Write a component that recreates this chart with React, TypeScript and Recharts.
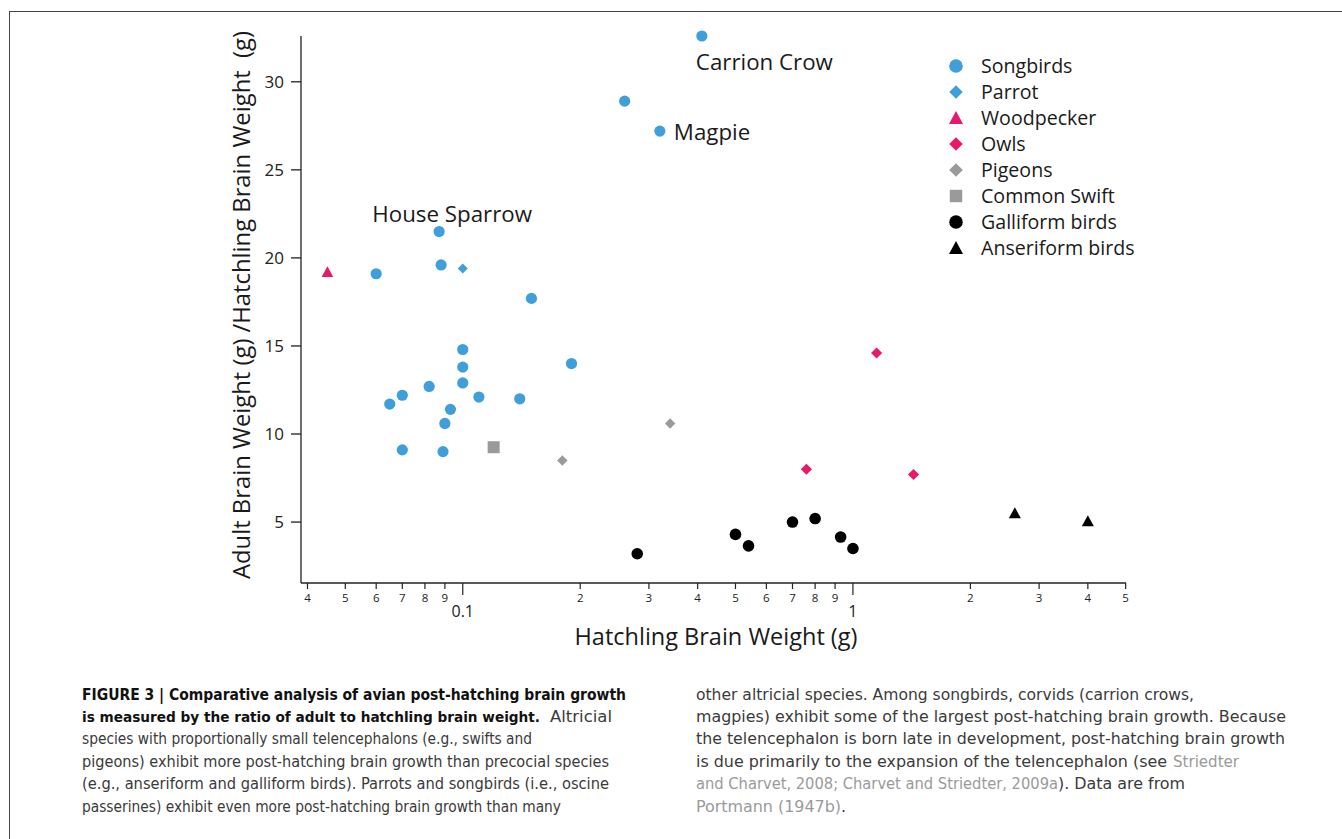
import React from 'react';
import { ScatterChart, Scatter, XAxis, YAxis, Legend } from 'recharts';

// ---- data (hatchling brain weight g, ratio adult/hatchling) ----
const songbirdX = [0.41, 0.26, 0.32, 0.087, 0.088, 0.06, 0.15, 0.1, 0.1, 0.19, 0.1, 0.082, 0.07, 0.065, 0.11, 0.14, 0.093, 0.09, 0.07, 0.089];
const songbirdY = [32.6, 28.9, 27.2, 21.5, 19.6, 19.1, 17.7, 14.8, 13.8, 14.0, 12.9, 12.7, 12.2, 11.7, 12.1, 12.0, 11.4, 10.6, 9.1, 9.0];
const parrotX = [0.1];
const parrotY = [19.4];
const woodpeckerX = [0.045];
const woodpeckerY = [19.2];
const owlX = [0.76, 1.15, 1.43];
const owlY = [8.0, 14.6, 7.7];
const pigeonX = [0.18, 0.34];
const pigeonY = [8.5, 10.6];
const swiftX = [0.12];
const swiftY = [9.25];
const galliformX = [0.28, 0.5, 0.54, 0.7, 0.8, 0.93, 1.0];
const galliformY = [3.2, 4.3, 3.65, 5.0, 5.2, 4.15, 3.5];
const anseriformX = [2.6, 4.0];
const anseriformY = [5.5, 5.05];

const annotationNames = ['Carrion Crow', 'Magpie', 'House Sparrow'];
const annotationX = [0.41, 0.32, 0.087];
const annotationY = [32.6, 27.2, 21.5];

const xTicks = [0.04, 0.05, 0.06, 0.07, 0.08, 0.09, 0.1, 0.2, 0.3, 0.4, 0.5, 0.6, 0.7, 0.8, 0.9, 1, 2, 3, 4, 5];
const yTicks = [5, 10, 15, 20, 25, 30];

// ---- caption text ----
type Seg = { t: string; s?: 'b' | 'l' };
const captionLeft: Seg[][] = [
  [{ t: 'FIGURE 3 | Comparative analysis of avian post-hatching brain growth', s: 'b' }],
  [{ t: 'is measured by the ratio of adult to hatchling brain weight.', s: 'b' }, { t: 'Altricial' }],
  [{ t: 'species with proportionally small telencephalons (e.g., swifts and' }],
  [{ t: 'pigeons) exhibit more post-hatching brain growth than precocial species' }],
  [{ t: '(e.g., anseriform and galliform birds). Parrots and songbirds (i.e., oscine' }],
  [{ t: 'passerines) exhibit even more post-hatching brain growth than many' }],
];
const captionRight: Seg[][] = [
  [{ t: 'other altricial species. Among songbirds, corvids (carrion crows,' }],
  [{ t: 'magpies) exhibit some of the largest post-hatching brain growth. Because' }],
  [{ t: 'the telencephalon is born late in development, post-hatching brain growth' }],
  [{ t: 'is due primarily to the expansion of the telencephalon (see' }, { t: 'Striedter', s: 'l' }],
  [{ t: 'and Charvet, 2008; Charvet and Striedter, 2009a', s: 'l' }, { t: '). Data are from' }],
  [{ t: 'Portmann (1947b)', s: 'l' }, { t: '.' }],
];
// layout of each segment: [offset from column start, length, font size] in px
const captionLeftLayout = [
  [[0, 544, 15.5]],
  [[0, 458, 14.6], [468, 62, 16]],
  [[0, 450, 16]],
  [[0, 527, 16]],
  [[0, 527, 16]],
  [[0, 479, 16]],
];
const captionRightLayout = [
  [[0, 498, 16]],
  [[0, 590, 16]],
  [[0, 589, 16]],
  [[0, 471, 16], [477, 66, 16]],
  [[0, 362, 16], [362, 127, 16]],
  [[0, 145, 16], [145, 5, 16]],
];

// ---- styles ----
const BLUE = '#3f9fdb';
const PINK = '#e8196b';
const GRAY = '#9a9a9a';
const BLACK = '#000000';
const FONT = '"Open Sans", "DejaVu Sans", sans-serif';
const CAPTION_FONT = '"DejaVu Sans Condensed", "Liberation Sans Narrow", "Roboto", sans-serif';
const annotationStyle = [
  { dx: -6, dy: 25, anchor: 'start' },
  { dx: 14, dy: 0, anchor: 'start' },
  { dx: 13, dy: -18, anchor: 'middle' },
];

const zip = (xs: number[], ys: number[]) => xs.map((x, i) => ({ x, y: ys[i] }));

type Kind = 'circle' | 'diamond' | 'triangle' | 'square';

const drawSymbol = (kind: Kind, cx: number, cy: number, s: number, color: string) => {
  switch (kind) {
    case 'circle':
      return <circle cx={cx} cy={cy} r={s} fill={color} />;
    case 'diamond':
      return <polygon points={`${cx},${cy - s} ${cx + s},${cy} ${cx},${cy + s} ${cx - s},${cy}`} fill={color} />;
    case 'triangle':
      return <polygon points={`${cx},${cy - s} ${cx + s},${cy + s * 0.85} ${cx - s},${cy + s * 0.85}`} fill={color} />;
    case 'square':
      return <rect x={cx - s} y={cy - s} width={2 * s} height={2 * s} fill={color} />;
  }
};

const makeShape = (kind: Kind, color: string, size: number) => (props: any) => {
  const { cx, cy } = props;
  if (cx == null || cy == null) return <g />;
  return <g>{drawSymbol(kind, cx, cy, size, color)}</g>;
};

const series = [
  { name: 'Songbirds', data: zip(songbirdX, songbirdY), kind: 'circle' as Kind, color: BLUE, size: 5.6, legendSize: 6.8 },
  { name: 'Parrot', data: zip(parrotX, parrotY), kind: 'diamond' as Kind, color: BLUE, size: 5, legendSize: 6.8 },
  { name: 'Woodpecker', data: zip(woodpeckerX, woodpeckerY), kind: 'triangle' as Kind, color: PINK, size: 5.8, legendSize: 7 },
  { name: 'Owls', data: zip(owlX, owlY), kind: 'diamond' as Kind, color: PINK, size: 5.6, legendSize: 6.8 },
  { name: 'Pigeons', data: zip(pigeonX, pigeonY), kind: 'diamond' as Kind, color: GRAY, size: 5.2, legendSize: 6.8 },
  { name: 'Common Swift', data: zip(swiftX, swiftY), kind: 'square' as Kind, color: GRAY, size: 6, legendSize: 6.2 },
  { name: 'Galliform birds', data: zip(galliformX, galliformY), kind: 'circle' as Kind, color: BLACK, size: 5.8, legendSize: 6.8 },
  { name: 'Anseriform birds', data: zip(anseriformX, anseriformY), kind: 'triangle' as Kind, color: BLACK, size: 6, legendSize: 7 },
];

const annotations = annotationNames.map((text, i) => ({ x: annotationX[i], y: annotationY[i], text, ...annotationStyle[i] }));

const AnnotationShape = (props: any) => {
  const { cx, cy, payload } = props;
  if (cx == null || cy == null) return <g />;
  return (
    <text
      x={cx + payload.dx}
      y={cy + payload.dy}
      textAnchor={payload.anchor}
      dominantBaseline="central"
      fontSize={22.3}
      fontFamily={FONT}
      fill="#1a1a1a"
    >
      {payload.text}
    </text>
  );
};

const leadDigit = (v: number) => Math.round(v / Math.pow(10, Math.floor(Math.log10(v) + 1e-9)));

const XTick = (props: any) => {
  const { x, y, payload } = props;
  const v = payload.value;
  const major = Math.abs(v - 0.1) < 1e-9 || Math.abs(v - 1) < 1e-9;
  return (
    <g>
      <line x1={x} x2={x} y1={y} y2={y + (major ? 12 : 6)} stroke="#222" strokeWidth={1.2} />
      {major ? (
        <text x={x} y={y + 34} textAnchor="middle" fontSize={16} fontFamily={FONT} fill="#222">
          {v < 0.5 ? '0.1' : '1'}
        </text>
      ) : (
        <text x={x} y={y + 19} textAnchor="middle" fontSize={11.5} fontFamily={FONT} fill="#222">
          {leadDigit(v)}
        </text>
      )}
    </g>
  );
};

const LegendContent = () => (
  <div style={{ fontFamily: FONT, fontSize: 19.6, color: '#1a1a1a' }}>
    {series.map((s) => (
      <div key={s.name} style={{ display: 'flex', alignItems: 'center', height: 26 }}>
        <svg width={22} height={26} style={{ display: 'block' }}>
          {drawSymbol(s.kind, 11, 13, s.legendSize, s.color)}
        </svg>
        <span style={{ marginLeft: 14, whiteSpace: 'nowrap', lineHeight: '26px' }}>{s.name}</span>
      </div>
    ))}
  </div>
);

const segStyle = (s?: 'b' | 'l') =>
  s === 'b' ? { fontWeight: 'bold' as const, fill: '#111' } : s === 'l' ? { fill: '#9a9a9a' } : { fill: '#3a3a3a' };

const CaptionColumn = ({ lines, layout, x }: { lines: Seg[][]; layout: number[][][]; x: number }) => (
  <>
    {lines.map((segs, i) =>
      segs.map((sg, j) => {
        const [off, w, fs] = layout[i][j];
        return (
          <text
            key={`${i}-${j}`}
            x={x + off}
            y={699.5 + i * 22.4}
            textLength={w}
            lengthAdjust="spacingAndGlyphs"
            fontSize={fs}
            fontFamily={CAPTION_FONT}
            style={{ whiteSpace: 'pre' }}
            {...segStyle(sg.s)}
          >
            {sg.t}
          </text>
        );
      })
    )}
  </>
);

export default function App() {
  return (
    <div style={{ position: 'absolute', left: 0, top: 0, width: 1342, height: 839, overflow: 'hidden', background: '#fff' }}>
      <div
        style={{
          position: 'absolute',
          left: 9,
          top: 11,
          width: 1400,
          height: 900,
          borderTop: '1.5px solid #444',
          borderLeft: '1.5px solid #444',
        }}
      />
      <div style={{ position: 'absolute', left: 0, top: 0 }}>
        <ScatterChart width={1342} height={650} margin={{ top: 36, right: 216, left: 241, bottom: 37 }}>
          <XAxis
            type="number"
            dataKey="x"
            scale="log"
            domain={[0.0385, 5.01]}
            allowDataOverflow
            ticks={xTicks}
            interval={0}
            tick={<XTick />}
            tickLine={false}
            tickSize={0}
            tickMargin={0}
            height={30}
            axisLine={{ stroke: '#222', strokeWidth: 1.3 }}
          />
          <YAxis
            type="number"
            dataKey="y"
            domain={[1.54, 32.6]}
            ticks={yTicks}
            interval={0}
            width={60}
            tickSize={10}
            tickMargin={7}
            tickLine={{ stroke: '#222', strokeWidth: 1.3 }}
            axisLine={{ stroke: '#222', strokeWidth: 1.3 }}
            tick={{ fontSize: 17, fontFamily: FONT, fill: '#222' }}
          />
          <Legend
            layout="vertical"
            align="center"
            verticalAlign="middle"
            content={<LegendContent />}
            wrapperStyle={{ left: 945, top: 53, width: 240, right: 'auto', bottom: 'auto' }}
          />
          {series.map((s) => (
            <Scatter
              key={s.name}
              name={s.name}
              data={s.data}
              fill={s.color}
              shape={makeShape(s.kind, s.color, s.size)}
              isAnimationActive={false}
            />
          ))}
          <Scatter name="labels" data={annotations} shape={AnnotationShape} legendType="none" isAnimationActive={false} />
        </ScatterChart>
      </div>
      <div
        style={{
          position: 'absolute',
          left: 716,
          top: 636,
          transform: 'translate(-50%, -50%)',
          fontFamily: FONT,
          fontSize: 23.5,
          lineHeight: '24px',
          color: '#1a1a1a',
          whiteSpace: 'nowrap',
        }}
      >
        Hatchling Brain Weight (g)
      </div>
      <div
        style={{
          position: 'absolute',
          left: 241,
          top: 305,
          transform: 'translate(-50%, -50%) rotate(-90deg)',
          fontFamily: FONT,
          fontSize: 23.8,
          lineHeight: '26px',
          color: '#1a1a1a',
          whiteSpace: 'pre',
        }}
      >
        {'Adult Brain Weight (g) /Hatchling Brain Weight  (g)'}
      </div>
      <svg width={1342} height={839} style={{ position: 'absolute', left: 0, top: 0, pointerEvents: 'none' }}>
        <CaptionColumn lines={captionLeft} layout={captionLeftLayout} x={82} />
        <CaptionColumn lines={captionRight} layout={captionRightLayout} x={696} />
      </svg>
    </div>
  );
}
